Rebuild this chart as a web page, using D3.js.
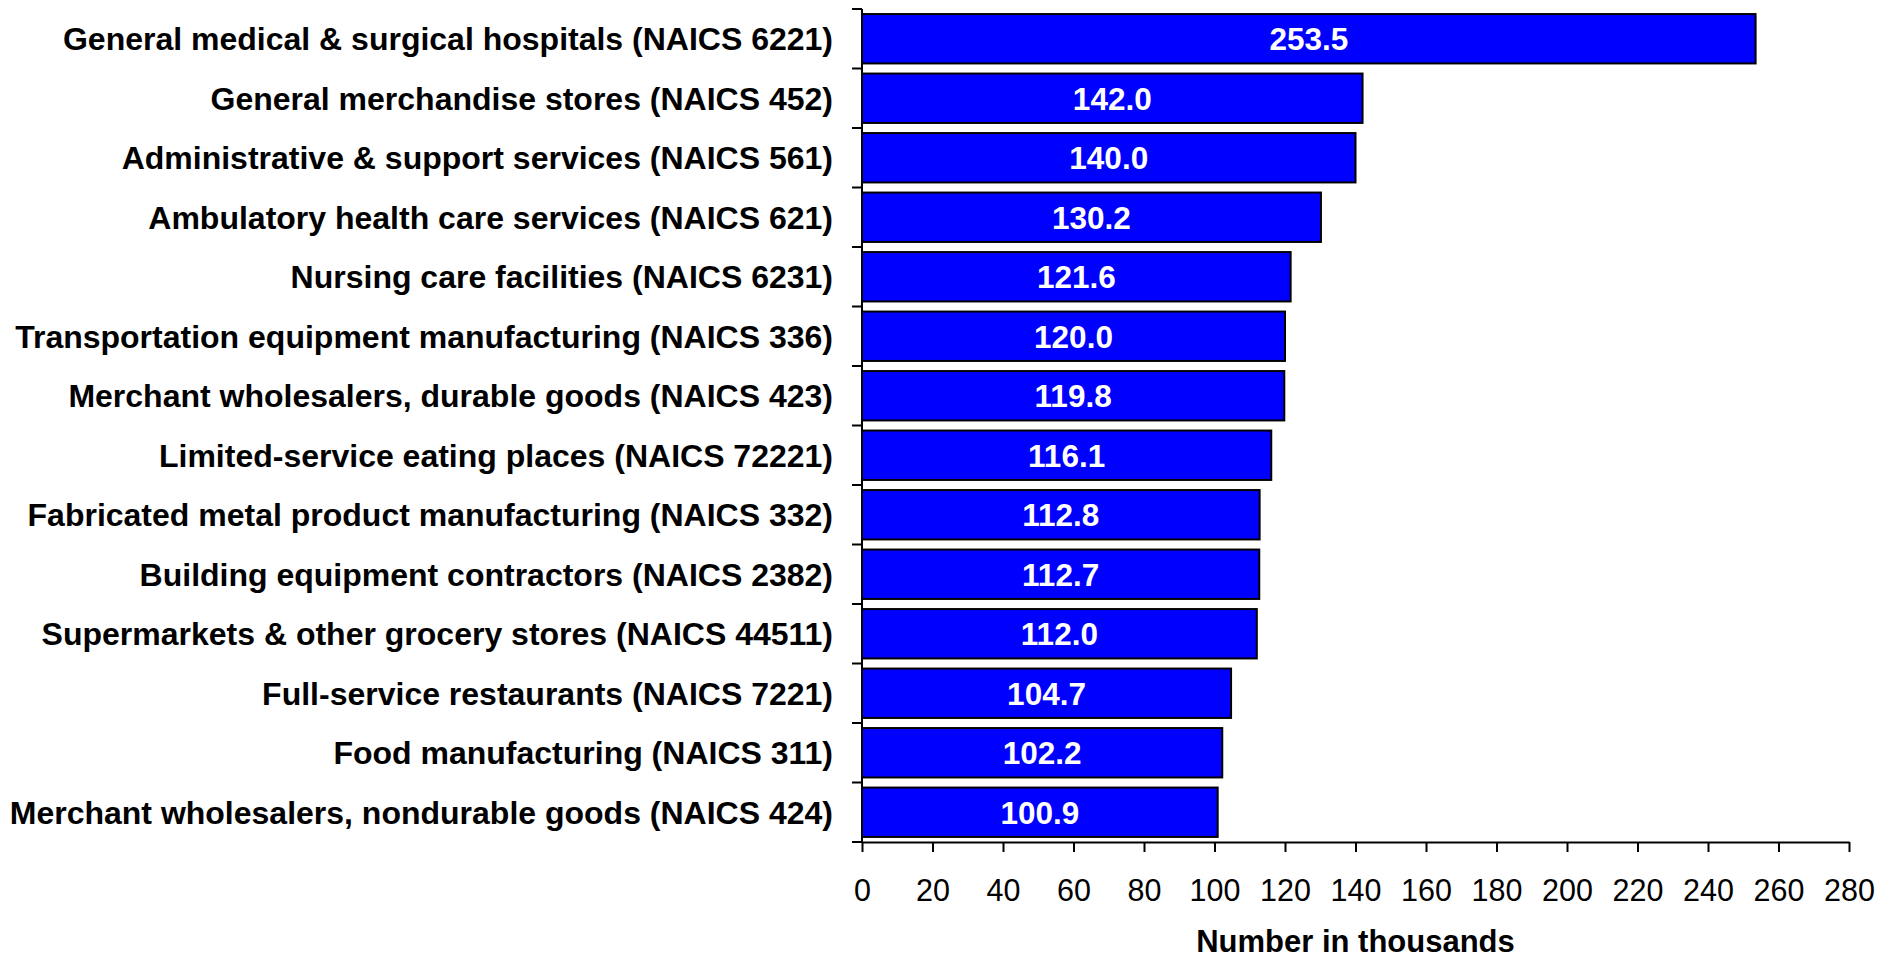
<!DOCTYPE html>
<html>
<head>
<meta charset="utf-8">
<script src="https://cdn.jsdelivr.net/npm/d3@7"></script>
<style>
  body { margin: 0; background: #fff; }
  text { font-family: "Liberation Sans", Arial, sans-serif; }
</style>
</head>
<body>
<svg width="1878" height="960"></svg>
<script>
// Data
var industries = [
  "General medical & surgical hospitals (NAICS 6221)",
  "General merchandise stores (NAICS 452)",
  "Administrative & support services (NAICS 561)",
  "Ambulatory health care services (NAICS 621)",
  "Nursing care facilities (NAICS 6231)",
  "Transportation equipment manufacturing (NAICS 336)",
  "Merchant wholesalers, durable goods (NAICS 423)",
  "Limited-service eating places (NAICS 72221)",
  "Fabricated metal product manufacturing (NAICS 332)",
  "Building equipment contractors (NAICS 2382)",
  "Supermarkets & other grocery stores (NAICS 44511)",
  "Full-service restaurants (NAICS 7221)",
  "Food manufacturing (NAICS 311)",
  "Merchant wholesalers, nondurable goods (NAICS 424)"
];
var values = [253.5, 142.0, 140.0, 130.2, 121.6, 120.0, 119.8, 116.1, 112.8, 112.7, 112.0, 104.7, 102.2, 100.9];
var xTicks = [0, 20, 40, 60, 80, 100, 120, 140, 160, 180, 200, 220, 240, 260, 280];
var xTitle = "Number in thousands";

var svg = d3.select("svg");

// Plot area (window.top is read-only, so use other names)
var plotL = 862, plotR = 1849, plotT = 9, plotB = 842;

var x = d3.scaleLinear().domain([0, 280]).range([plotL, plotR]);
var y = d3.scaleBand()
    .domain(industries)
    .range([plotT, plotB])
    .paddingInner(0.17)
    .paddingOuter(0.085);

var step = y.step();

// Bars
svg.append("g")
  .selectAll("rect")
  .data(values)
  .enter()
  .append("rect")
    .attr("x", x(0))
    .attr("y", (d, i) => y(industries[i]))
    .attr("width", d => x(d) - x(0))
    .attr("height", y.bandwidth())
    .attr("fill", "#0000ff")
    .attr("stroke", "#000")
    .attr("stroke-width", 2);

// Value labels inside bars
svg.append("g")
  .selectAll("text")
  .data(values)
  .enter()
  .append("text")
    .attr("x", d => (x(0) + x(d)) / 2)
    .attr("y", (d, i) => y(industries[i]) + y.bandwidth() / 2)
    .attr("dy", "0.36em")
    .attr("text-anchor", "middle")
    .attr("fill", "#fff")
    .style("font-size", "31.5px")
    .style("font-weight", "bold")
    .text(d => d.toFixed(1));

// Category labels
svg.append("g")
  .selectAll("text")
  .data(industries)
  .enter()
  .append("text")
    .attr("x", plotL - 29)
    .attr("y", d => y(d) + y.bandwidth() / 2)
    .attr("dy", "0.36em")
    .attr("text-anchor", "end")
    .attr("fill", "#000")
    .style("font-size", "32px")
    .style("font-weight", "bold")
    .text(d => d);

// Y axis: line plus ticks on band boundaries
var yAxis = svg.append("g");
yAxis.append("line")
    .attr("x1", plotL).attr("x2", plotL)
    .attr("y1", plotT).attr("y2", plotB)
    .attr("stroke", "#000").attr("stroke-width", 2);
yAxis.selectAll(".tick")
  .data(d3.range(industries.length + 1))
  .enter()
  .append("line")
    .attr("x1", plotL - 10).attr("x2", plotL)
    .attr("y1", i => plotT + i * step)
    .attr("y2", i => plotT + i * step)
    .attr("stroke", "#000").attr("stroke-width", 2);

// X axis
var xAxis = svg.append("g")
    .attr("transform", "translate(0," + plotB + ")")
    .call(d3.axisBottom(x).tickValues(xTicks).tickSize(10).tickPadding(27).tickSizeOuter(0));
xAxis.select(".domain").attr("stroke", "#000").attr("stroke-width", 2);
xAxis.selectAll(".tick line").attr("stroke", "#000").attr("stroke-width", 2);
xAxis.selectAll(".tick text")
    .attr("fill", "#000")
    .style("font-size", "30.5px")
    .style("font-family", "'Liberation Sans', Arial, sans-serif");

// X axis title
svg.append("text")
    .attr("x", (plotL + plotR) / 2)
    .attr("y", 952)
    .attr("text-anchor", "middle")
    .style("font-size", "31px")
    .style("font-weight", "bold")
    .text(xTitle);
</script>
</body>
</html>
